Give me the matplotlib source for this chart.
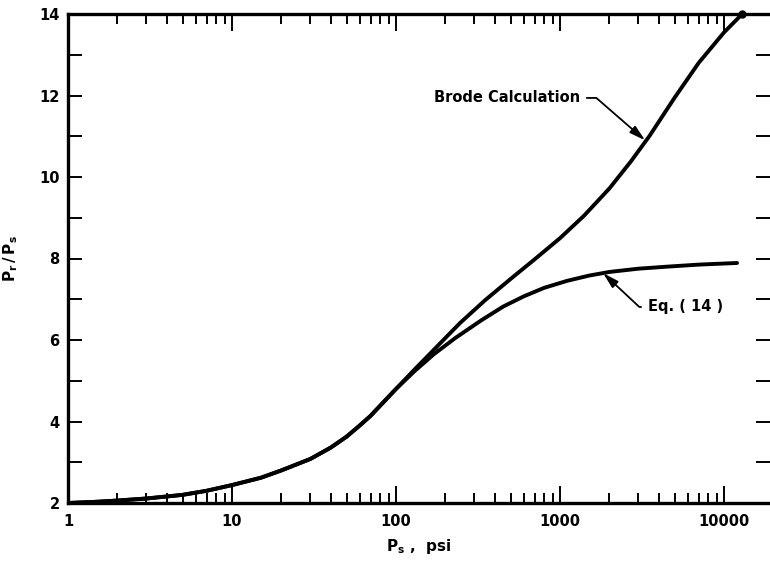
import numpy as np
import matplotlib.pyplot as plt
from matplotlib.ticker import FixedLocator, LogLocator, NullFormatter

plt.rcParams['font.family'] = ['Liberation Sans Narrow', 'DejaVu Sans']
plt.rcParams['font.weight'] = 'bold'

# Brode calculation curve
brode_x = [1, 1.5, 2, 3, 4, 5, 7, 10, 15, 20, 30, 40, 50, 60, 70, 85, 100,
           130, 170, 246, 350, 500, 700, 1000, 1400, 2000, 2700, 3500, 5000,
           7000, 10000, 12900]
brode_y = [2.0, 2.03, 2.06, 2.11, 2.16, 2.2, 2.3, 2.44, 2.62, 2.8, 3.08, 3.36,
           3.63, 3.9, 4.14, 4.5, 4.8, 5.28, 5.76, 6.42, 6.98, 7.5, 7.98, 8.5,
           9.05, 9.72, 10.38, 11.0, 11.95, 12.8, 13.55, 14.0]

# Eq. (14) curve
eq_x = [1, 1.5, 2, 3, 4, 5, 7, 10, 15, 20, 30, 40, 50, 60, 70, 85, 100,
        130, 170, 230, 333, 450, 600, 800, 1100, 1500, 2000, 3000, 4500,
        7000, 12000]
eq_y = [2.0, 2.03, 2.06, 2.11, 2.16, 2.2, 2.3, 2.44, 2.62, 2.8, 3.08, 3.36,
        3.63, 3.9, 4.14, 4.5, 4.8, 5.24, 5.65, 6.05, 6.49, 6.82, 7.07,
        7.28, 7.45, 7.58, 7.67, 7.75, 7.8, 7.85, 7.89]

xticks = [1, 10, 100, 1000, 10000]
xlabels = ['1', '10', '100', '1000', '10000']
yticks = [2, 4, 6, 8, 10, 12, 14]

fig = plt.figure(figsize=(7.7, 5.67), dpi=100)
ax = fig.add_axes([68/770, 1-503/567, 1-68/770, (503-14)/567])

ax.plot(brode_x, brode_y, color='black', lw=2.8, solid_capstyle='round',
        solid_joinstyle='round')
ax.plot(eq_x, eq_y, color='black', lw=2.8, solid_capstyle='round',
        solid_joinstyle='round')
ax.plot(brode_x[-1], brode_y[-1], 'o', color='black', ms=5, clip_on=False)

ax.set_xscale('log')
ax.set_xlim(1, 10**4.28)
ax.set_ylim(2, 14)

ax.xaxis.set_major_locator(FixedLocator(xticks))
ax.set_xticklabels(xlabels)
ax.xaxis.set_minor_locator(LogLocator(base=10, subs=np.arange(2, 10)))
ax.xaxis.set_minor_formatter(NullFormatter())
ax.set_yticks(yticks)
ax.set_yticklabels([str(v) for v in yticks])
ax.yaxis.set_minor_locator(FixedLocator([3, 5, 7, 9, 11, 13]))

ax.tick_params(which='both', direction='in', top=True, right=True,
               width=1.4, labelsize=10.5)
ax.tick_params(which='major', length=12)
ax.tick_params(which='minor', length=7)
ax.tick_params(axis='y', which='both', length=10)
ax.tick_params(axis='x', pad=8)
ax.tick_params(axis='y', pad=6)

for s in ['left', 'bottom', 'top']:
    ax.spines[s].set_linewidth(2.4)
ax.spines['right'].set_visible(False)

ax.set_xlabel(r'$\mathbf{P_s}$ ,  psi', fontsize=11, fontweight='bold',
              labelpad=6)
ax.set_ylabel(r'$\mathbf{P_r\,/\,P_s}$', fontsize=11, labelpad=14)

arrow = dict(arrowstyle='-|>,head_length=0.9,head_width=0.25', color='black',
             lw=1.3, shrinkA=3, shrinkB=0)
ax.annotate('Brode Calculation', xy=(3300, 10.9), xytext=(1320, 11.94),
            ha='right', va='center', fontsize=10.5,
            arrowprops=dict(arrow, connectionstyle='angle,angleA=0,angleB=-41,rad=0'))
ax.annotate('Eq. ( 14 )', xy=(1830, 7.64), xytext=(3440, 6.81),
            ha='left', va='center', fontsize=10.5,
            arrowprops=dict(arrow, connectionstyle='angle,angleA=0,angleB=-43,rad=0'))

fig.savefig('out.png', dpi=100)
